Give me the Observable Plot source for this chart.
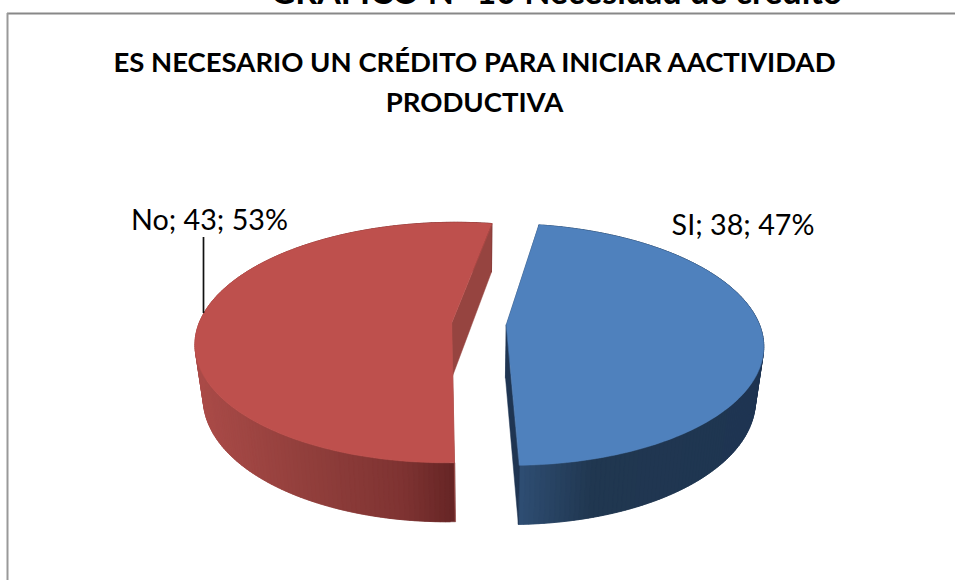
<!DOCTYPE html>
<html lang="es">
<head>
<meta charset="utf-8">
<title>Necesidad de crédito</title>
<script src="https://cdn.jsdelivr.net/npm/d3@7"></script>
<script src="https://cdn.jsdelivr.net/npm/@observablehq/plot@0.6"></script>
<style>
  html, body { margin: 0; padding: 0; background: #fff; }
  svg { display: block; }
</style>
</head>
<body>
<div id="chart"></div>
<script>
// Data
const categorias = ["SI", "No"];
const valores = [38, 43];
const porcentajes = [47, 53];
const tituloLineas = ["ES NECESARIO UN CRÉDITO PARA INICIAR AACTIVIDAD", "PRODUCTIVA"];
const encabezado = "GRÁFICO N° 10 Necesidad de crédito";

// Style
const W = 955, H = 580;
const colorTapa = ["#4F81BD", "#BE504D"];
const colorCorte = ["#1F3552", "#964440"];
const rampaX = [[519, 590, 770], [195, 300, 400, 453]];
const rampaColor = [["#2E4D72", "#203750", "#1F3552"], ["#AA4B48", "#923F3C", "#7E3332", "#652424"]];

// 3D pie view (rotation, perspective, explosion)
const rotacion = 9.6 * Math.PI / 180;
const view = {cx: 478.5, cy: 323.5, rx: 253, ry: 117.4, k: 0.162, explode: 0.108, depth: 54.5, shrink: 1.03};

const arcs = d3.pie().sort(null).startAngle(rotacion).endAngle(rotacion + 2 * Math.PI)(valores);

function project(theta, r, bisector, lower) {
  const u = r * Math.sin(theta) + view.explode * Math.sin(bisector);
  const v = r * Math.cos(theta) + view.explode * Math.cos(bisector);
  const w = (1 + view.k * v) * (lower ? view.shrink : 1);
  return {
    x: view.cx + view.rx * u / w,
    y: view.cy + (-view.ry * v + (lower ? view.depth : 0)) / w
  };
}
const angles = (a) => {
  const n = Math.ceil((a.endAngle - a.startAngle) / (Math.PI / 180));
  return d3.range(n + 1).map((i) => a.startAngle + (a.endAngle - a.startAngle) * i / n);
};

const polys = [];
let pid = 0;
function addPoly(points, fill) {
  const id = pid++;
  for (const p of points) polys.push({id, fill, x: p.x, y: p.y});
}

// outer walls: each band overlaps the next one so that no seam shows
arcs.forEach((a, i) => {
  const b = (a.startAngle + a.endAngle) / 2;
  const shade = d3.scaleLinear().domain(rampaX[i]).range(rampaColor[i]).interpolate(d3.interpolateRgb).clamp(true);
  const ts = angles(a);
  for (let j = 0; j < ts.length - 1; j++) {
    const end = ts[Math.min(j + 2, ts.length - 1)];
    const p0 = project(ts[j], 1, b, false), p1 = project(end, 1, b, false);
    const q1 = project(end, 1, b, true), q0 = project(ts[j], 1, b, true);
    const mid = project(ts[j + 1], 1, b, false);
    addPoly([p0, mid, p1, q1, q0], shade(mid.x));
  }
});
// cut faces
arcs.forEach((a, i) => {
  const b = (a.startAngle + a.endAngle) / 2;
  for (const t of [a.startAngle, a.endAngle]) {
    addPoly([
      project(t, 0, b, false), project(t, 1, b, false),
      project(t, 1, b, true), project(t, 0, b, true)
    ], colorCorte[i]);
  }
});
// top faces
arcs.forEach((a, i) => {
  const b = (a.startAngle + a.endAngle) / 2;
  addPoly([project(0, 0, b, false), ...angles(a).map((t) => project(t, 1, b, false))], colorTapa[i]);
});

const etiquetas = categorias.map((c, i) => `${c}; ${valores[i]}; ${porcentajes[i]}%`);
const posEtiqueta = [{x: 742.5, y: 225}, {x: 209, y: 220.5}];
const etiquetaDatos = etiquetas.map((t, i) => ({t, ...posEtiqueta[i]}));
const tituloDatos = tituloLineas.map((t, i) => ({t, x: 474, y: 62.5 + i * 40}));

const chart = Plot.plot({
  width: W, height: H,
  margin: 0,
  x: {domain: [0, W], range: [0, W], axis: null},
  y: {domain: [0, H], range: [0, H], axis: null},
  marks: [
    Plot.line(polys, {x: "x", y: "y", z: "id", fill: "fill", stroke: "fill", strokeWidth: 0.5, curve: "linear-closed"}),
    Plot.ruleY([13], {x1: 7, x2: W, stroke: "#888", strokeWidth: 2}),
    Plot.ruleX([7], {y1: 13, y2: H, stroke: "#999", strokeWidth: 2}),
    Plot.ruleX([203], {y1: 237, y2: 313, stroke: "#111", strokeWidth: 1.7}),
    Plot.text(tituloDatos, {x: "x", y: "y", text: "t", fontSize: 27.5, fontWeight: 700, fontFamily: "Lato", fill: "#000"}),
    Plot.text(etiquetaDatos, {x: "x", y: "y", text: "t", fontSize: 28.7, fontFamily: "Lato", fill: "#000"}),
    Plot.text([encabezado], {x: 556, y: -7.5, text: (d) => d, fontSize: 34, fontWeight: 700, fontFamily: "Lato", fill: "#000"})
  ]
});
document.getElementById("chart").append(chart);
</script>
</body>
</html>
